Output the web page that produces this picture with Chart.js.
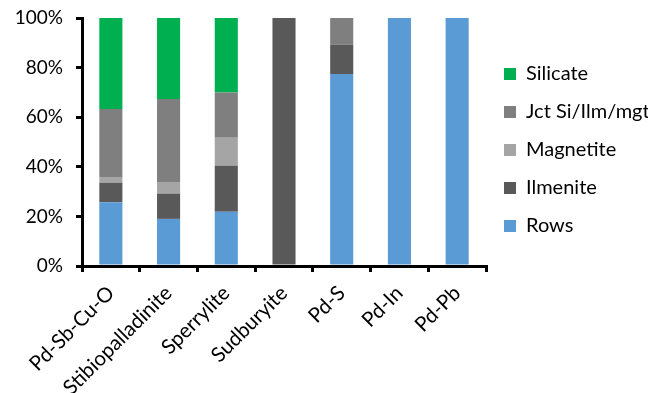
<!DOCTYPE html>
<html>
<head>
<meta charset="utf-8">
<script src="https://cdn.jsdelivr.net/npm/chart.js@4.4.0/dist/chart.umd.min.js"></script>
<style>
    html, body { margin: 0; padding: 0; background: #fff; }
    #wrap { width: 658px; height: 393px; position: relative; }
</style>
</head>
<body>
<div id="wrap"><canvas id="mineralChart"></canvas></div>
<script>
const categories = ['Pd-Sb-Cu-O', 'Stibiopalladinite', 'Sperrylite', 'Sudburyite', 'Pd-S', 'Pd-In', 'Pd-Pb'];

const rows = [25.7, 19.0, 21.9, 0, 77.4, 100, 100];
const ilmenite = [7.9, 10.2, 18.5, 100, 11.8, 0, 0];
const magnetite = [2.3, 4.7, 11.3, 0, 0, 0, 0];
const jctSiIlmMgt = [27.4, 33.4, 18.3, 0, 10.8, 0, 0];
const silicate = [36.7, 32.7, 30.0, 0, 0, 0, 0];

const yTicks = [0, 20, 40, 60, 80, 100];

document.addEventListener('DOMContentLoaded', () => {
    const canvas = document.getElementById('mineralChart');
    const fontFamily = 'Lato, "Open Sans", sans-serif';

    const makeSet = (label, data, color) => ({
        label,
        data,
        backgroundColor: color,
        borderWidth: 0,
        barPercentage: 0.4,
        categoryPercentage: 1
    });

    new Chart(canvas, {
        type: 'bar',
        data: {
            labels: categories,
            datasets: [
                makeSet('Rows', rows, '#5b9bd5'),
                makeSet('Ilmenite', ilmenite, '#595959'),
                makeSet('Magnetite', magnetite, '#a5a5a5'),
                makeSet('Jct Si/Ilm/mgt', jctSiIlmMgt, '#7f7f7f'),
                makeSet('Silicate', silicate, '#00b050')
            ]
        },
        options: {
            responsive: true,
            maintainAspectRatio: false,
            animation: false,
            layout: { padding: { top: 18, right: 10, bottom: 0, left: 0 } },
            plugins: {
                tooltip: { enabled: false },
                legend: {
                    position: 'right',
                    align: 'start',
                    reverse: true,
                    title: { display: true, text: '', font: { size: 10, lineHeight: 1 }, padding: { top: 18, bottom: 0 } },
                    labels: {
                        boxWidth: 12,
                        boxHeight: 12,
                        padding: 18,
                        color: '#000',
                        font: { family: fontFamily, size: 20 }
                    }
                }
            },
            scales: {
                x: {
                    stacked: true,
                    afterFit: (scale) => { scale.height = 127; },
                    border: { display: true, color: '#000', width: 3 },
                    grid: {
                        display: true,
                        offset: true,
                        drawOnChartArea: false,
                        drawTicks: true,
                        tickLength: 6,
                        color: '#000',
                        lineWidth: 3
                    },
                    ticks: {
                        autoSkip: false,
                        minRotation: 45,
                        maxRotation: 45,
                        padding: 9,
                        color: '#000',
                        font: { family: fontFamily, size: 20.5 }
                    }
                },
                y: {
                    stacked: true,
                    min: 0,
                    max: 100,
                    afterFit: (scale) => {
                        scale.width = 82;
                        scale.paddingTop = 0;
                        scale.paddingBottom = 0;
                    },
                    afterBuildTicks: (scale) => { scale.ticks = yTicks.map((v) => ({ value: v })); },
                    border: { display: true, color: '#000', width: 3 },
                    grid: {
                        display: true,
                        drawOnChartArea: false,
                        drawTicks: true,
                        tickLength: 6,
                        color: '#000',
                        lineWidth: 3
                    },
                    ticks: {
                        padding: 13,
                        color: '#000',
                        font: { family: fontFamily, size: 19 },
                        callback: (value) => value + '%'
                    }
                }
            }
        }
    });
});
</script>
</body>
</html>
